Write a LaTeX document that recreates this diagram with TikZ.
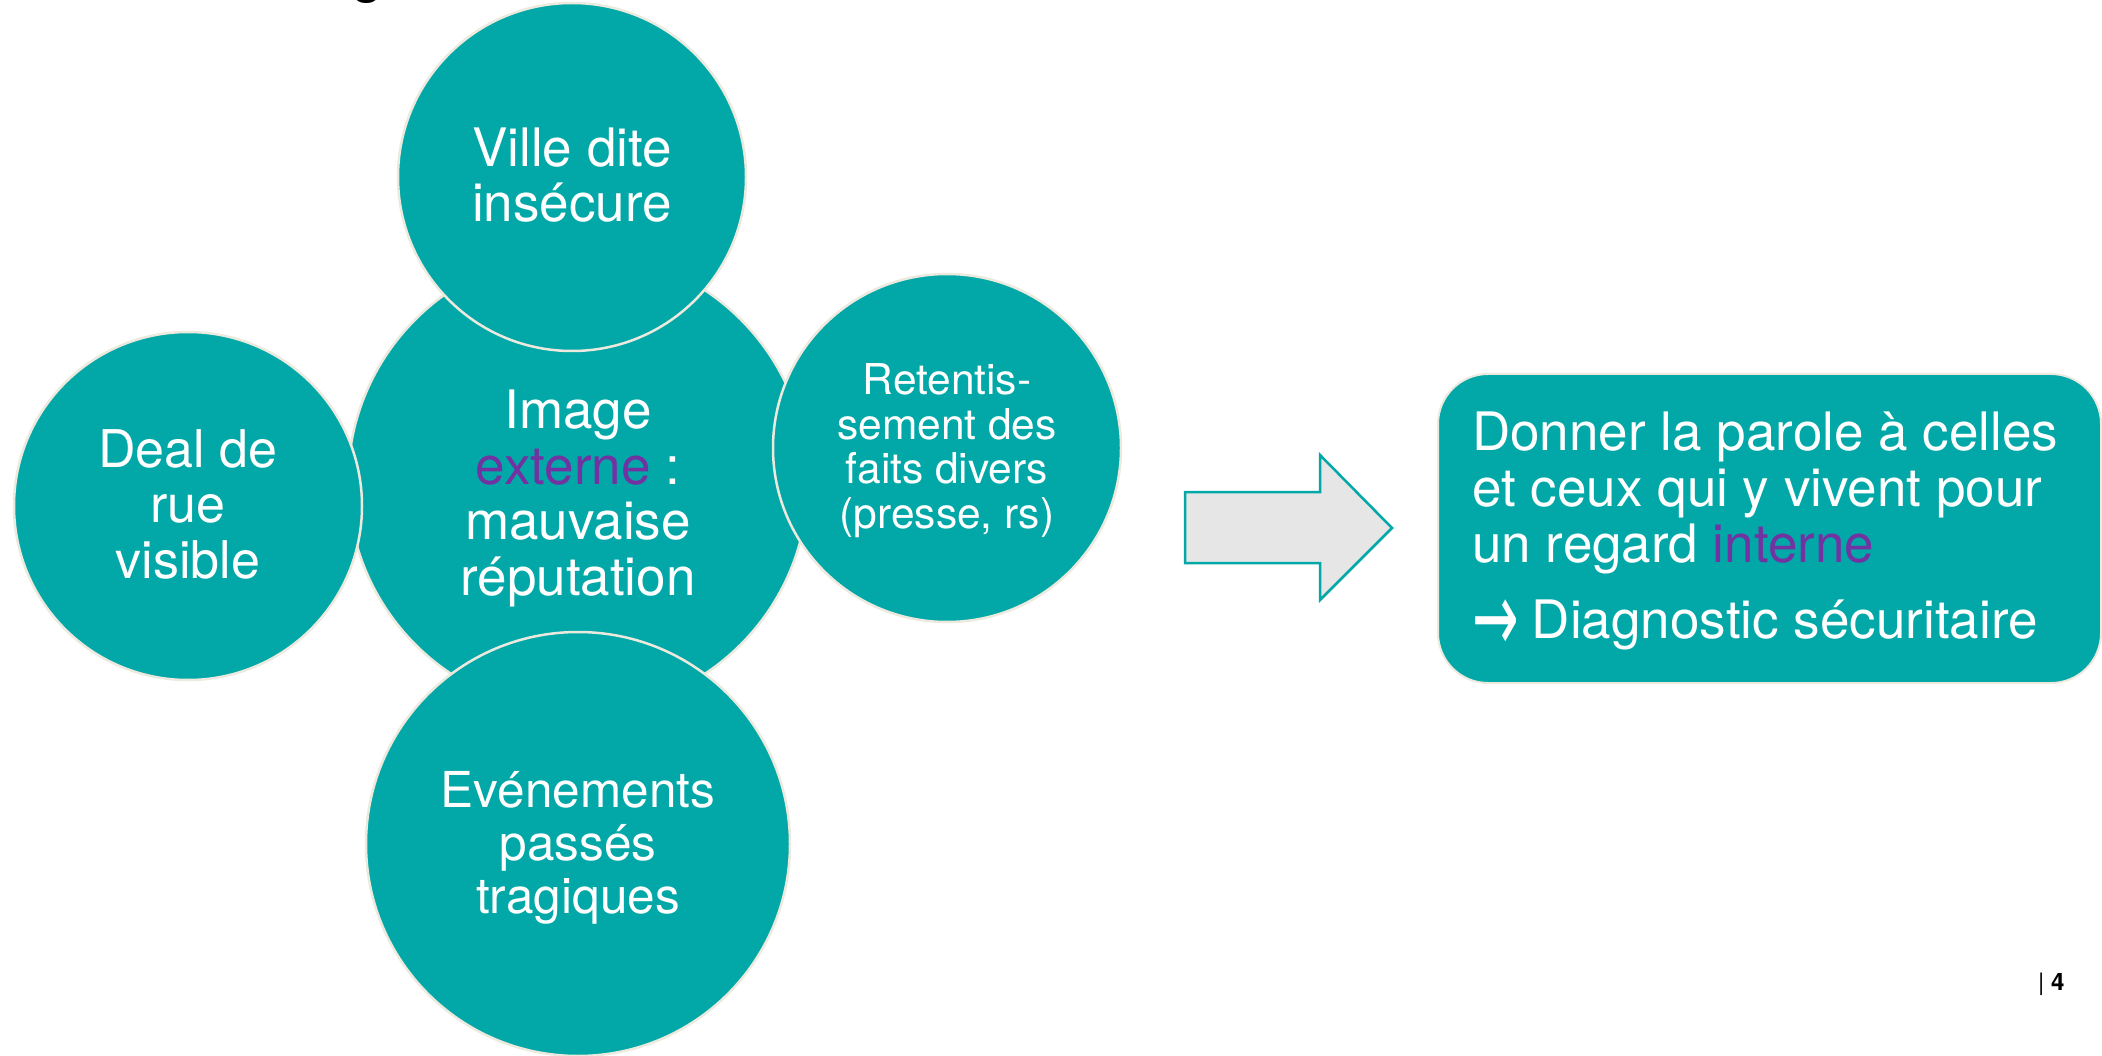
\documentclass[tikz,border=0pt]{standalone}
\usepackage{fontspec}
\usepackage{graphicx}
\setmainfont{TeX Gyre Heros}
\newfontfamily\arrowfont{DejaVu Sans}
\definecolor{tealfill}{RGB}{2,168,168}
\definecolor{rim}{RGB}{236,233,222}
\definecolor{purp}{RGB}{114,50,162}
\definecolor{arrowfill}{RGB}{230,230,230}
\begin{document}
\begin{tikzpicture}[x=1pt,y=-1pt,
  bub/.style={circle, fill=tealfill, draw=rim, line width=2.5pt, inner sep=0pt, minimum size=#1},
  lbl/.style={text=white, align=center, anchor=base, inner sep=0pt},
  big/.style={font=\fontsize{53}{55.5}\selectfont},
]
\useasboundingbox (0,0) rectangle (2102,1056);
\begin{scope}
\clip (0,0) rectangle (2102,1056);
% title fragment
\node (title) [anchor=base, inner sep=0pt, font=\bfseries\fontsize{46}{46}\selectfont] at (368,-6) {g};
% circles
\node (ctr) [bub=460] at (578,482) {};
\node (ville) [bub=348] at (572,177) {};
\node (deal) [bub=348] at (188,506) {};
\node (ret) [bub=348] at (947,448) {};
\node (eve) [bub=424] at (578,844) {};
\end{scope}
% labels (anchor base = baseline of last line)
\node (ctrtxt) [lbl, big] at (578,595) {Image\\ \textcolor{purp}{externe} :\\ mauvaise\\ réputation};
\node (villetxt) [lbl, big] at (572,222) {Ville dite\\ insécure};
\node (dealtxt) [lbl, font=\fontsize{52}{55.5}\selectfont] at (188,578) {Deal de\\ rue\\ visible};
\node (rettxt) [lbl, font=\fontsize{42.5}{44.5}\selectfont] at (947,528) {Retentis-\\ sement des\\ faits divers\\ (presse, rs)};
\node (evetxt) [lbl, font=\fontsize{49.5}{53}\selectfont] at (578,913) {Evénements\\ passés\\ tragiques};
% block arrow
\draw[fill=arrowfill, draw=tealfill, line width=2.5pt, line join=miter]
  (1185,492) -- (1320,492) -- (1320,455) -- (1392,528) -- (1320,600) -- (1320,563) -- (1185,563) -- cycle;
% box
\node (box) [anchor=north west, rectangle, rounded corners=50pt, fill=tealfill, draw=rim, line width=2pt,
  minimum width=663, minimum height=309, inner sep=0pt] at (1437,373) {};
\node (boxtxt) [anchor=base west, align=left, inner sep=0pt, text=white, font=\fontsize{53}{56}\selectfont] at (1472,638)
  {Donner la parole à celles\\ et ceux qui y vivent pour\\ un regard \textcolor{purp}{interne}\\[20pt] \raisebox{-13.5pt}{\scalebox{1.05}[1.85]{\arrowfont →}}\hspace{13pt}Diagnostic sécuritaire};
% page number
\node (pg) [anchor=base west, inner sep=0pt, font=\fontsize{24}{28}\selectfont] at (2038,990) {| \textbf{4}};
\end{tikzpicture}
\end{document}
